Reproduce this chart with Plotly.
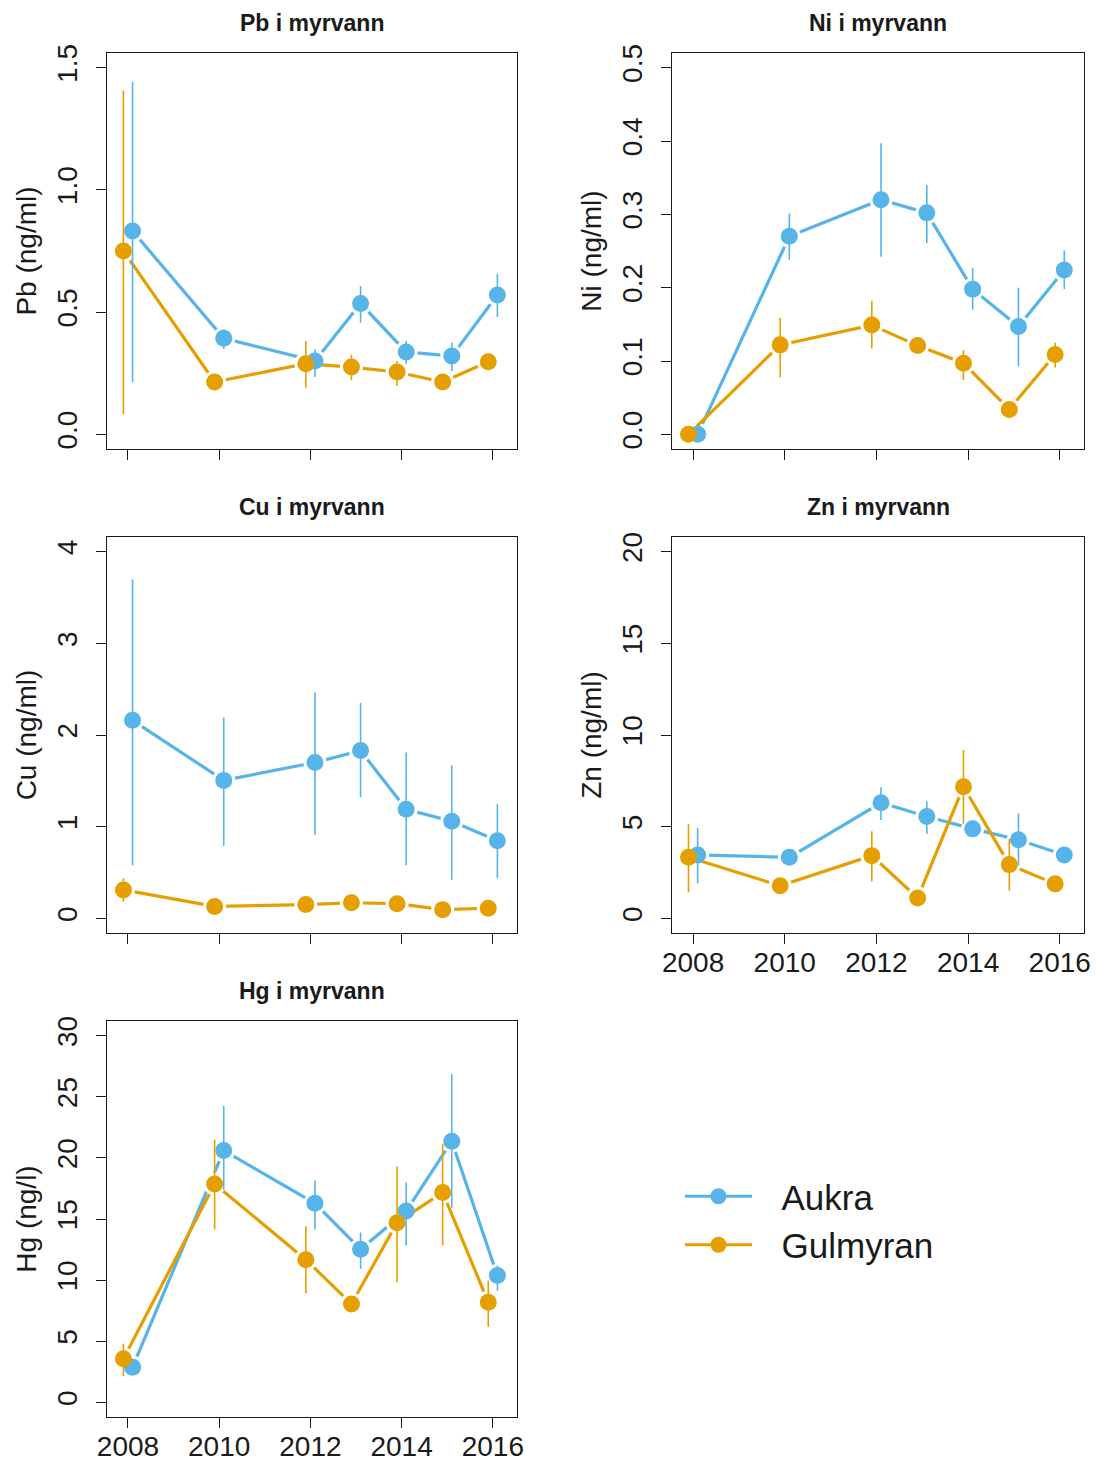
import plotly.graph_objects as go

years = [2008, 2010, 2012, 2013, 2014, 2015, 2016]
sites = ["Aukra", "Gulmyran"]
site_offset = [0.1, -0.1]
colors = ["#56B4E9", "#E69F00"]

# Pb (ng/ml)
pb_aukra = [0.832, 0.393, 0.300, 0.535, 0.337, 0.320, 0.570]
pb_aukra_lo = [0.214, 0.350, 0.235, 0.457, 0.289, 0.259, 0.480]
pb_aukra_hi = [1.441, 0.430, 0.348, 0.607, 0.382, 0.375, 0.657]
pb_gulm = [0.750, 0.214, 0.289, 0.275, 0.255, 0.214, 0.297]
pb_gulm_lo = [0.082, 0.205, 0.191, 0.221, 0.198, 0.195, 0.285]
pb_gulm_hi = [1.407, 0.225, 0.382, 0.325, 0.300, 0.235, 0.310]

# Ni (ng/ml)
ni_aukra = [0.0, 0.270, 0.320, 0.302, 0.198, 0.147, 0.224]
ni_aukra_lo = [0.0, 0.238, 0.242, 0.261, 0.170, 0.093, 0.198]
ni_aukra_hi = [0.0, 0.301, 0.397, 0.340, 0.227, 0.200, 0.251]
ni_gulm = [0.0, 0.122, 0.149, 0.121, 0.097, 0.034, 0.109]
ni_gulm_lo = [0.0, 0.078, 0.117, 0.115, 0.074, 0.030, 0.091]
ni_gulm_hi = [0.0, 0.159, 0.182, 0.127, 0.115, 0.038, 0.125]

# Cu (ng/ml)
cu_aukra = [2.16, 1.505, 1.70, 1.83, 1.19, 1.06, 0.846]
cu_aukra_lo = [0.58, 0.79, 0.91, 1.32, 0.58, 0.42, 0.44]
cu_aukra_hi = [3.70, 2.19, 2.465, 2.35, 1.81, 1.67, 1.245]
cu_gulm = [0.31, 0.13, 0.15, 0.17, 0.16, 0.095, 0.11]
cu_gulm_lo = [0.18, 0.12, 0.14, 0.16, 0.15, 0.09, 0.10]
cu_gulm_hi = [0.44, 0.14, 0.16, 0.18, 0.17, 0.10, 0.12]

# Zn (ng/ml)
zn_aukra = [3.46, 3.33, 6.30, 5.55, 4.88, 4.29, 3.46]
zn_aukra_lo = [1.91, 3.33, 5.37, 4.60, 4.60, 2.88, 3.30]
zn_aukra_hi = [4.93, 3.33, 7.15, 6.38, 5.20, 5.73, 3.60]
zn_gulm = [3.33, 1.78, 3.42, 1.11, 7.18, 2.93, 1.88]
zn_gulm_lo = [1.42, 1.70, 2.02, 1.00, 5.15, 1.51, 1.80]
zn_gulm_hi = [5.15, 1.90, 4.75, 1.20, 9.19, 4.33, 2.00]

# Hg (ng/l)
hg_aukra = [2.88, 20.6, 16.28, 12.52, 15.65, 21.37, 10.38]
hg_aukra_lo = [2.5, 17.4, 14.14, 10.93, 12.85, 15.93, 9.14]
hg_aukra_hi = [3.3, 24.25, 18.15, 13.9, 18.0, 26.85, 11.2]
hg_gulm = [3.57, 17.87, 11.67, 8.05, 14.7, 17.17, 8.19]
hg_gulm_lo = [2.14, 14.14, 8.93, 7.8, 9.83, 12.85, 6.18]
hg_gulm_hi = [4.8, 21.5, 14.4, 8.3, 19.3, 21.17, 9.97]

panels = [
    dict(title="Pb i myrvann", ylab="Pb (ng/ml)", ymax=1.5, dtick=0.5, fmt=".1f",
         data=[(pb_aukra, pb_aukra_lo, pb_aukra_hi), (pb_gulm, pb_gulm_lo, pb_gulm_hi)]),
    dict(title="Ni i myrvann", ylab="Ni (ng/ml)", ymax=0.5, dtick=0.1, fmt=".1f",
         data=[(ni_aukra, ni_aukra_lo, ni_aukra_hi), (ni_gulm, ni_gulm_lo, ni_gulm_hi)]),
    dict(title="Cu i myrvann", ylab="Cu (ng/ml)", ymax=4, dtick=1, fmt="d",
         data=[(cu_aukra, cu_aukra_lo, cu_aukra_hi), (cu_gulm, cu_gulm_lo, cu_gulm_hi)]),
    dict(title="Zn i myrvann", ylab="Zn (ng/ml)", ymax=20, dtick=5, fmt="d",
         data=[(zn_aukra, zn_aukra_lo, zn_aukra_hi), (zn_gulm, zn_gulm_lo, zn_gulm_hi)]),
    dict(title="Hg i myrvann", ylab="Hg (ng/l)", ymax=30, dtick=5, fmt="d",
         data=[(hg_aukra, hg_aukra_lo, hg_aukra_hi), (hg_gulm, hg_gulm_lo, hg_gulm_hi)]),
]

W, H = 1096, 1463
col_px = [(107, 517), (672, 1084)]
row_px = [(53, 449), (537, 933), (1021, 1417)]
positions = [(0, 0), (0, 1), (1, 0), (1, 1), (2, 0)]
label_x = [False, False, False, True, True]

FONT = "Liberation Sans, Arial, sans-serif"
INK = "#1a1a1a"
fig = go.Figure()
layout = dict()
annotations = []

for i, (p, (r, c)) in enumerate(zip(panels, positions)):
    n = i + 1
    xa = "x" if n == 1 else f"x{n}"
    ya = "y" if n == 1 else f"y{n}"
    x0, x1 = col_px[c]
    y0, y1 = row_px[r]
    xdom = [x0 / W, x1 / W]
    ydom = [1 - y1 / H, 1 - y0 / H]
    ext = p["ymax"] * 0.04
    # line layer with white discs to mimic R type="b" gaps
    for s in range(2):
        vals, lo, hi = p["data"][s]
        xs = [y + site_offset[s] for y in years]
        fig.add_trace(go.Scatter(
            x=xs, y=vals, mode="lines+markers", xaxis=xa, yaxis=ya,
            line=dict(color=colors[s], width=3.2),
            marker=dict(size=23, color="white", line=dict(width=0)),
            showlegend=False, hoverinfo="skip"))
    for s in range(2):
        vals, lo, hi = p["data"][s]
        xs = [y + site_offset[s] for y in years]
        fig.add_trace(go.Scatter(
            x=xs, y=vals, mode="markers", xaxis=xa, yaxis=ya,
            marker=dict(size=17, color=colors[s], line=dict(width=0)),
            error_y=dict(type="data", symmetric=False,
                         array=[h - v for h, v in zip(hi, vals)],
                         arrayminus=[v - l for v, l in zip(vals, lo)],
                         color=colors[s], thickness=1.6, width=0),
            name=sites[s], showlegend=False))
    layout["xaxis" if n == 1 else f"xaxis{n}"] = dict(
        domain=xdom, range=[2007.54, 2016.53], anchor=ya, automargin=False,
        tickvals=[2008, 2010, 2012, 2014, 2016], ticktext=["2008", "2010", "2012", "2014", "2016"],
        showticklabels=label_x[i], ticks="outside", ticklen=10, tickwidth=1.3, tickcolor=INK,
        ticklabelstandoff=-6,
        showline=True, mirror=True, linecolor=INK, linewidth=1.4,
        showgrid=False, zeroline=False,
        tickfont=dict(family=FONT, size=28, color=INK))
    layout["yaxis" if n == 1 else f"yaxis{n}"] = dict(
        domain=ydom, range=[-ext, p["ymax"] + ext], anchor=xa, automargin=False,
        dtick=p["dtick"], tick0=0, tickformat=p["fmt"], tickangle=-90,
        ticks="outside", ticklen=10, tickwidth=1.3, tickcolor=INK,
        ticklabelstandoff=8,
        showline=True, mirror=True, linecolor=INK, linewidth=1.4,
        showgrid=False, zeroline=False,
        tickfont=dict(family=FONT, size=28, color=INK),
        title=dict(text=p["ylab"], font=dict(family=FONT, size=28, color=INK), standoff=6))
    annotations.append(dict(
        text=f"<b>{p['title']}</b>", xref="paper", yref="paper",
        x=(xdom[0] + xdom[1]) / 2, y=1 - (y0 - 30) / H, xanchor="center", yanchor="middle",
        showarrow=False, font=dict(family=FONT, size=23, color=INK)))

# legend-only entries
for s in range(2):
    fig.add_trace(go.Scatter(
        x=[None], y=[None], mode="lines+markers", name="\u2002\u2009" + sites[s],
        line=dict(color=colors[s], width=3.2), marker=dict(size=16, color=colors[s]),
        xaxis="x", yaxis="y", showlegend=True))

fig.update_layout(
    width=W, height=H, margin=dict(l=0, r=0, t=0, b=0, autoexpand=False),
    paper_bgcolor="white", plot_bgcolor="white",
    annotations=annotations,
    legend=dict(x=680 / W, y=1 - 1167 / H, xanchor="left", yanchor="top",
                font=dict(family=FONT, size=35, color=INK),
                bgcolor="rgba(0,0,0,0)", itemwidth=67, tracegroupgap=0),
    **layout)

fig.write_html("out.html")
